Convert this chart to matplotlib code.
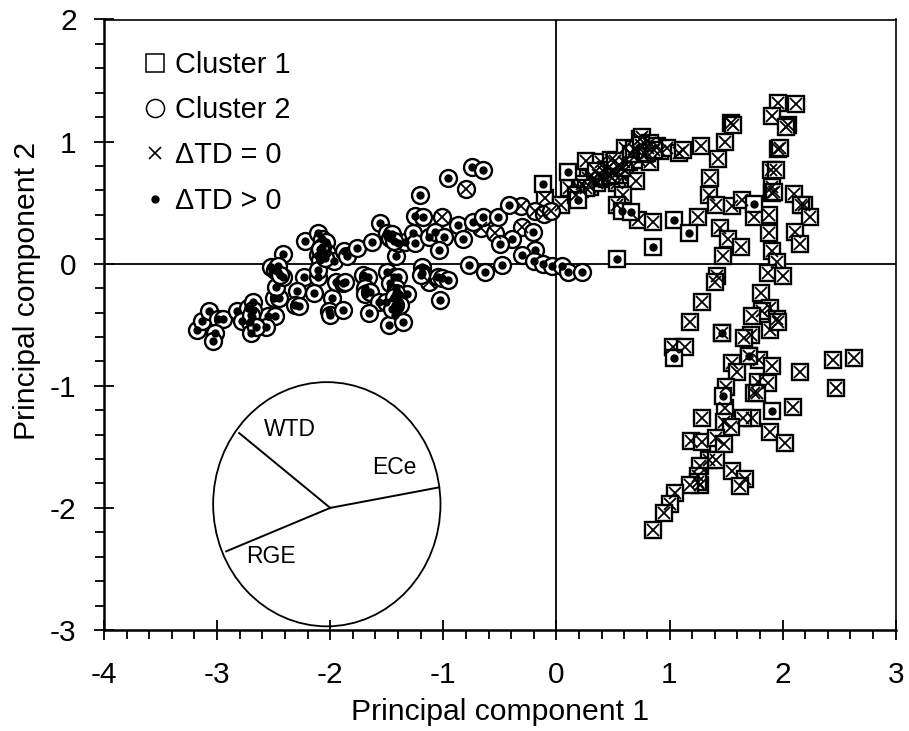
import matplotlib
matplotlib.use('Agg')
import matplotlib.pyplot as plt
from matplotlib.lines import Line2D
from matplotlib.patches import Ellipse
from matplotlib.ticker import MultipleLocator

plt.rcParams['font.family'] = ['Liberation Sans', 'DejaVu Sans']
plt.rcParams['axes.unicode_minus'] = False

# cluster 2, dTD > 0
c2_dot_x = [-3.18, -3.13, -3.07, -2.99, -2.95, -3.02, -3.04, -2.82, -2.73, -2.68, -2.78, -2.71, -2.69, -2.70,
            -2.55, -2.49, -2.57, -2.50, -2.45, -2.48, -2.52, -2.49, -2.46, -2.42, -2.42, -2.23, -2.29, -2.31,
            -2.28, -2.22, -2.11, -2.07, -2.04, -2.11, -2.03, -2.09, -1.97, -1.88, -1.85, -1.76, -1.63, -1.56,
            -1.50, -1.47, -1.42, -1.40, -1.34, -1.27, -1.25, -1.25, -1.18, -1.21, -0.96, -0.75, -0.65, -1.13,
            -1.07, -0.99, -1.04, -0.87, -0.83, -0.74, -0.65, -0.52, -0.42, -0.21, -0.39, -0.50, -0.19, -0.30,
            -0.20, -0.12, -0.04, 0.05, 0.10, 0.23, -0.63, -0.77, -0.48, -1.19, -1.19, -1.05, -1.01, -0.96,
            -1.03, -1.20, -2.11, -2.14, -1.98, -1.95, -1.89, -1.87, -2.01, -2.00, -1.89, -1.71, -1.67, -1.69,
            -1.69, -1.65, -1.57, -1.51, -1.66, -1.50, -1.44, -1.40, -1.47, -1.42, -1.40, -1.32, -1.42, -1.42,
            -1.42, -1.43, -1.48, -1.36, -2.11,
            -1.44, -1.40, -1.38, -1.43, -1.45, -2.07, -2.08, -2.05, -2.09, -2.46, -2.44, -2.68, -2.70, -2.66,
            -1.45, -1.44]
c2_dot_y = [-0.54, -0.47, -0.39, -0.45, -0.45, -0.57, -0.63, -0.39, -0.36, -0.31, -0.47, -0.48, -0.44, -0.57,
            -0.43, -0.43, -0.52, -0.28, -0.28, -0.19, -0.03, -0.05, -0.07, -0.11, 0.08, -0.11, -0.22, -0.34,
            -0.35, 0.19, 0.25, 0.20, 0.18, 0.07, 0.09, 0.03, 0.02, 0.10, 0.06, 0.13, 0.18, 0.33,
            0.25, 0.21, 0.06, 0.17, 0.18, 0.25, 0.17, 0.39, 0.38, 0.56, 0.70, 0.79, 0.77, 0.22,
            0.26, 0.22, 0.11, 0.32, 0.20, 0.34, 0.38, 0.38, 0.48, 0.26, 0.20, 0.16, 0.11, 0.07,
            0.02, 0.00, -0.02, -0.02, -0.07, -0.07, -0.07, -0.01, -0.01, -0.03, -0.08, -0.11, -0.12, -0.13,
            -0.30, -0.09, -0.11, -0.24, -0.28, -0.15, -0.16, -0.15, -0.39, -0.42, -0.38, -0.09, -0.11, -0.20,
            -0.25, -0.23, -0.31, -0.31, -0.40, -0.07, -0.11, -0.11, -0.16, -0.20, -0.25, -0.25, -0.24, -0.29,
            -0.38, -0.42, -0.50, -0.48, -0.05,
            -0.27, -0.31, -0.34, -0.34, -0.37, 0.14, 0.10, 0.05, 0.12, -0.02, -0.09, -0.38, -0.42, -0.52,
            0.24, 0.19]

# cluster 2, dTD = 0
c2_cross_x = [-0.80, -1.01, -0.31, -0.19, -0.11, -0.05, -0.67, -0.54, -0.30, -1.13]
c2_cross_y = [0.61, 0.38, 0.47, 0.43, 0.41, 0.43, 0.29, 0.25, 0.30, -0.15]

# cluster 1, dTD > 0
c1_dot_x = [-0.12, 0.10, 0.19, 0.54, 0.85, 1.04, 1.17, 1.75, 0.58, 0.66, 1.04, 1.91, 1.47, 1.46, 1.70]
c1_dot_y = [0.65, 0.75, 0.52, 0.04, 0.14, 0.36, 0.25, 0.49, 0.43, 0.42, -0.77, -1.21, -1.08, -0.57, -0.76]

# cluster 1, dTD = 0
c1_cross_x = [-0.10, 0.04, 0.11, 0.21, 0.30, 0.36, 0.26, 0.28, 0.39, 0.42, 0.45, 0.48, 0.50, 0.54, 0.57,
              0.61, 0.64, 0.61, 0.72, 0.74, 0.76, 0.81, 0.83, 0.73, 0.83, 0.89, 0.92, 0.98, 1.08, 1.12,
              1.28, 0.70, 0.59, 0.54, 0.72, 0.85, 1.25, 1.36, 1.35, 1.41, 1.55, 1.64, 1.45, 1.52, 1.63,
              1.47, 1.42, 1.40, 1.29, 1.18, 1.43, 1.49, 1.54, 1.56, 1.96, 2.12, 1.91, 2.05, 2.03, 1.96,
              1.98, 1.90, 1.94, 1.91, 1.91, 1.92, 2.10, 2.19, 2.16, 2.24, 2.11, 2.15, 1.88, 1.75, 1.88,
              1.91, 1.95, 1.87, 2.00, 1.81, 1.89, 1.82, 1.73, 1.95, 1.89, 1.96, 1.72, 1.66, 1.46, 1.03,
              1.14, 1.70, 1.79, 1.91, 1.55, 1.60, 2.15, 2.45, 2.63, 2.47, 1.78, 1.87, 1.75, 1.77, 1.50,
              1.49, 2.09, 1.73, 1.65, 1.29, 1.48, 1.54, 1.89, 2.02, 1.19, 1.29, 1.41, 1.48, 1.35, 1.41,
              1.27, 1.55, 1.67, 1.62, 1.25, 1.27, 1.25, 1.18, 1.05, 1.00, 0.95, 0.85,
              0.33, 0.37, 0.41, 0.44, 0.47, 0.35, 0.52, 0.55, 0.58, 0.60, 0.52, 0.66, 0.69, 0.75, 0.78,
              0.80, 0.86, 0.23, 0.26, 0.17]
c1_cross_y = [0.54, 0.48, 0.62, 0.61, 0.63, 0.66, 0.84, 0.70, 0.83, 0.75, 0.69, 0.85, 0.77, 0.66, 0.73,
              0.77, 0.83, 0.95, 0.92, 1.02, 1.04, 0.95, 0.99, 0.85, 0.83, 0.96, 0.92, 0.95, 0.91, 0.93,
              0.96, 0.68, 0.56, 0.48, 0.36, 0.34, 0.38, 0.70, 0.56, 0.48, 0.47, 0.52, 0.29, 0.20, 0.14,
              0.06, -0.10, -0.15, -0.31, -0.48, 0.86, 1.00, 1.15, 1.14, 1.32, 1.31, 1.21, 1.14, 1.12, 0.94,
              0.95, 0.77, 0.77, 0.63, 0.58, 0.59, 0.57, 0.48, 0.48, 0.38, 0.26, 0.16, 0.40, 0.38, 0.25,
              0.10, 0.01, -0.08, -0.10, -0.24, -0.36, -0.39, -0.43, -0.45, -0.54, -0.48, -0.58, -0.61, -0.57, -0.68,
              -0.68, -0.76, -0.79, -0.84, -0.81, -0.89, -0.89, -0.79, -0.77, -1.02, -0.97, -0.98, -1.06, -1.06, -1.01,
              -1.18, -1.17, -1.26, -1.26, -1.26, -1.30, -1.34, -1.38, -1.47, -1.45, -1.46, -1.43, -1.48, -1.61, -1.61,
              -1.66, -1.70, -1.76, -1.82, -1.74, -1.81, -1.79, -1.81, -1.88, -1.97, -2.04, -2.18,
              0.70, 0.73, 0.71, 0.77, 0.72, 0.76, 0.73, 0.81, 0.78, 0.83, 0.84, 0.90, 0.94, 0.97, 0.90,
              0.91, 0.93, 0.65, 0.62, 0.56]

# loading circle inset
circle_center = (-2.03, -1.97)
circle_width = 2.01
circle_height = 2.0
load_origin = (-2.0, -2.0)
load_names = ['WTD', 'ECe', 'RGE']
load_ends = [(-2.805, -1.387), (-1.038, -1.832), (-2.92, -2.356)]
load_text_pos = [(-2.36, -1.36), (-1.43, -1.67), (-2.52, -2.40)]

legend_labels = ['Cluster 1', 'Cluster 2', '\u0394TD = 0', '\u0394TD > 0']

fig = plt.figure(figsize=(9.09, 7.31), dpi=100)
ax = fig.add_axes([104 / 909, 101 / 731, 791.7 / 909, 610.5 / 731])

ax.axhline(0, color='black', lw=1.3, zorder=1)
ax.axvline(0, color='black', lw=1.3, zorder=1)

ax.add_patch(Ellipse(circle_center, circle_width, circle_height, fill=False, ec='black', lw=1.3, zorder=1))
for name, end, pos in zip(load_names, load_ends, load_text_pos):
    ax.plot([load_origin[0], end[0]], [load_origin[1], end[1]], color='black', lw=1.4, zorder=1)
    ax.text(pos[0], pos[1], name, fontsize=16.5, ha='center', va='center')

shell = dict(ls='none', mfc='white', mec='black', mew=1.7, zorder=2)
ax.plot(c1_cross_x, c1_cross_y, marker='s', ms=11.5, **shell)
ax.plot(c1_dot_x, c1_dot_y, marker='s', ms=11.5, **shell)
ax.plot(c2_cross_x, c2_cross_y, marker='o', ms=12.2, **shell)
ax.plot(c2_dot_x, c2_dot_y, marker='o', ms=12.2, **shell)

ax.plot(c1_cross_x + c2_cross_x, c1_cross_y + c2_cross_y, ls='none', marker='x', ms=9, mec='black', mew=1.3, zorder=3)
ax.plot(c1_dot_x + c2_dot_x, c1_dot_y + c2_dot_y, ls='none', marker='o', ms=6, mfc='black', mec='black', mew=0, zorder=3)

ax.set_xlim(-4, 3)
ax.set_ylim(-3, 2)
ax.xaxis.set_major_locator(MultipleLocator(1))
ax.yaxis.set_major_locator(MultipleLocator(1))
ax.xaxis.set_minor_locator(MultipleLocator(0.2))
ax.yaxis.set_minor_locator(MultipleLocator(0.2))
ax.tick_params(which='major', direction='inout', length=14.4, width=1.3, labelsize=21.5)
ax.tick_params(axis='x', which='major', pad=15)
ax.tick_params(axis='y', which='major', pad=12.5)
ax.tick_params(which='minor', direction='out', length=6.3, width=1.3)
ax.spines['left'].set_linewidth(1.8)
ax.spines['bottom'].set_linewidth(1.8)
ax.spines['top'].set_linewidth(1.2)
ax.spines['right'].set_linewidth(1.2)

ax.set_xlabel('Principal component 1', fontsize=21.7)
ax.set_ylabel('Principal component 2', fontsize=21.7)
ax.xaxis.set_label_coords(0.5, -0.1115)
ax.yaxis.set_label_coords(-0.08, 0.555)

handles = [
    Line2D([], [], ls='none', marker='s', ms=13, mfc='white', mec='black', mew=1.1),
    Line2D([], [], ls='none', marker='o', ms=13, mfc='white', mec='black', mew=1.1),
    Line2D([], [], ls='none', marker='x', ms=8.5, mec='black', mew=1.2),
    Line2D([], [], ls='none', marker='o', ms=6, mfc='black', mec='black', mew=0),
]
ax.legend(handles, legend_labels, loc='upper left', bbox_to_anchor=(0.0467, 0.949), frameon=False, fontsize=20.8,
          numpoints=1, handlelength=1, handletextpad=0.18, labelspacing=0.6, borderpad=0, borderaxespad=0)

fig.savefig('out.png', dpi=100)
